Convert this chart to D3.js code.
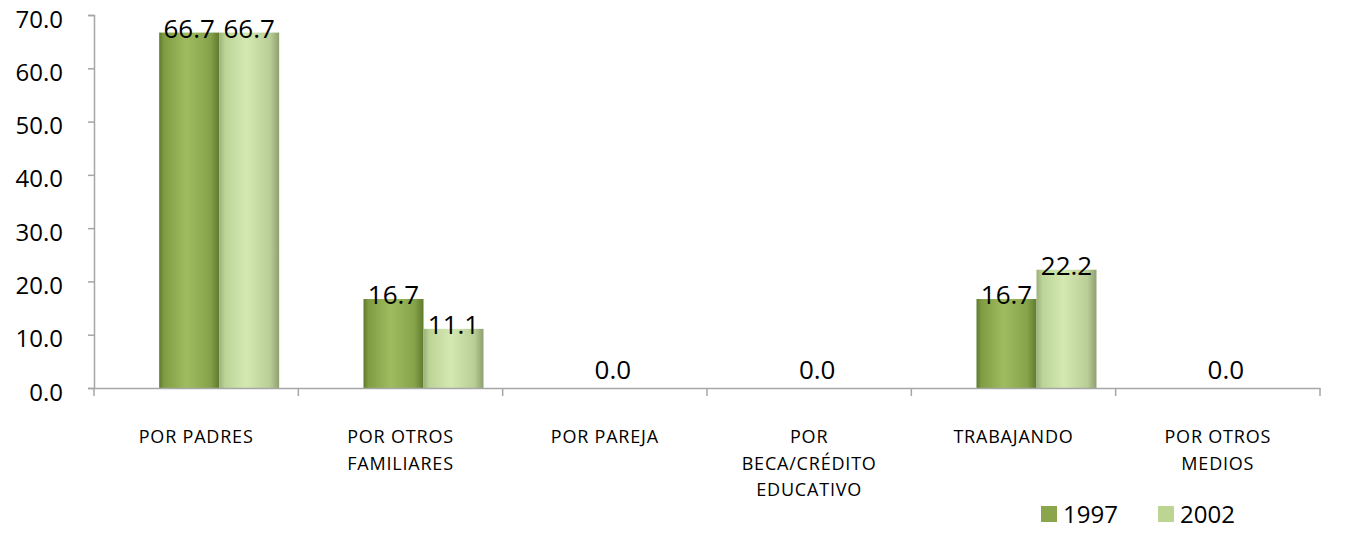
<!DOCTYPE html>
<html><head><meta charset="utf-8">
<script src="https://cdn.jsdelivr.net/npm/d3@7/dist/d3.min.js"></script>
<style>body{margin:0;background:#fff}svg{display:block;font-family:"Open Sans",Lato,sans-serif}</style>
</head><body><svg id="c" width="1372" height="539"></svg>
<script>
const categories = ["POR PADRES","POR OTROS\nFAMILIARES","POR PAREJA","POR\nBECA/CRÉDITO\nEDUCATIVO","TRABAJANDO","POR OTROS\nMEDIOS"];
const seriesNames = ["1997","2002"];
const values1997 = [66.7,16.7,0.0,0.0,16.7,0.0];
const values2002 = [66.7,11.1,0.0,0.0,22.2,0.0];
const yTicks = [0,10,20,30,40,50,60,70];

const svg = d3.select("#c");
const x0 = 94, x1 = 1320, yB = 388, yT = 15;
const x = d3.scaleBand().domain(categories).range([x0,x1]).padding(0);
const y = d3.scaleLinear().domain([0,70]).range([yB,yT]);
const groupW = 120, shift = 23;
const xs = d3.scaleBand().domain(seriesNames).range([0,groupW]).padding(0);

const defs = svg.append("defs");
function grad(id, stops){
  const g = defs.append("linearGradient").attr("id",id).attr("x1","0%").attr("x2","100%").attr("y1","0%").attr("y2","0%");
  stops.forEach(s=>g.append("stop").attr("offset",s[0]).attr("stop-color",s[1]));
}
grad("g1997",[["0%","#5e7a2c"],["8%","#7f9c42"],["45%","#a0bc60"],["85%","#86a34a"],["100%","#5f7b2e"]]);
grad("g2002",[["0%","#9cb07a"],["10%","#bcd497"],["45%","#d4e8b2"],["85%","#b9cd96"],["100%","#8fa06f"]]);
const colors = {"1997":"url(#g1997)","2002":"url(#g2002)"};
const legendColors = {"1997":"#8aa54c","2002":"#bcd592"};

const data = categories.map((c,i)=>({cat:c, vals:[{s:"1997",v:values1997[i]},{s:"2002",v:values2002[i]}]}));

const gOff = (x.bandwidth()-groupW)/2 + shift;
const groups = svg.append("g").selectAll("g").data(data).join("g")
  .attr("transform",d=>`translate(${x(d.cat)+gOff},0)`);
groups.selectAll("rect").data(d=>d.vals.filter(e=>e.v>0)).join("rect")
  .attr("x",e=>xs(e.s)).attr("width",xs.bandwidth())
  .attr("y",e=>y(e.v)).attr("height",e=>yB-y(e.v))
  .attr("fill",e=>colors[e.s]);

// value labels
groups.selectAll("text.v").data(d=>d.vals.filter(e=>e.v>0)).join("text").attr("class","v")
  .attr("x",e=>xs(e.s)+xs.bandwidth()/2).attr("y",e=>Math.max(y(e.v)+5, 32))
  .attr("text-anchor","middle").attr("font-size",26).attr("fill","#000")
  .text(e=>d3.format(".1f")(e.v));
svg.append("g").selectAll("text").data(data.filter(d=>d.vals.every(e=>e.v===0))).join("text")
  .attr("x",d=>x(d.cat)+x.bandwidth()/2+8).attr("y",y(0)-9)
  .attr("text-anchor","middle").attr("font-size",26).attr("fill","#000")
  .text(d=>d3.format(".1f")(d.vals[1].v));

// y axis
const yAxis = d3.axisLeft(y).tickValues(yTicks).tickFormat(d3.format(".1f")).tickSize(6).tickPadding(25);
const ga = svg.append("g").attr("transform",`translate(${x0},0)`).call(yAxis);
ga.select(".domain").attr("stroke","#a6a6a6").attr("stroke-width",1.5);
ga.selectAll(".tick line").attr("stroke","#a6a6a6").attr("stroke-width",1.5);
ga.selectAll(".tick text").attr("font-size",24).attr("fill","#000").attr("font-family","Open Sans").attr("dy","0.5em");

// x axis
const xAxis = d3.axisBottom(x).tickSize(0).tickFormat("");
const gx = svg.append("g").attr("transform",`translate(0,${yB})`).call(xAxis);
gx.select(".domain").attr("stroke","#a6a6a6").attr("stroke-width",1.5);
const bounds = categories.map(c=>x(c)).concat([x1]);
gx.selectAll("line.b").data(bounds).join("line").attr("class","b")
  .attr("x1",d=>d).attr("x2",d=>d).attr("y1",0).attr("y2",8)
  .attr("stroke","#a6a6a6").attr("stroke-width",1.5);
const cl = svg.append("g").selectAll("text").data(categories).join("text")
  .attr("x",c=>x(c)+x.bandwidth()/2).attr("y",443)
  .attr("text-anchor","middle").attr("font-size",18).attr("letter-spacing","0.8px").attr("fill","#000");
cl.each(function(c){
  const t = d3.select(this);
  c.split("\n").forEach((ln,i)=>t.append("tspan").attr("x",x(c)+x.bandwidth()/2).attr("dy",i===0?0:26.5).text(ln));
});

// legend
const lg = svg.append("g").selectAll("g").data(seriesNames).join("g")
  .attr("transform",(d,i)=>`translate(${1041+i*117},506)`);
lg.append("rect").attr("width",16).attr("height",16).attr("fill",d=>legendColors[d]);
lg.append("text").attr("x",22).attr("y",17).attr("font-size",24).attr("fill","#000").text(d=>d);
</script></body></html>
